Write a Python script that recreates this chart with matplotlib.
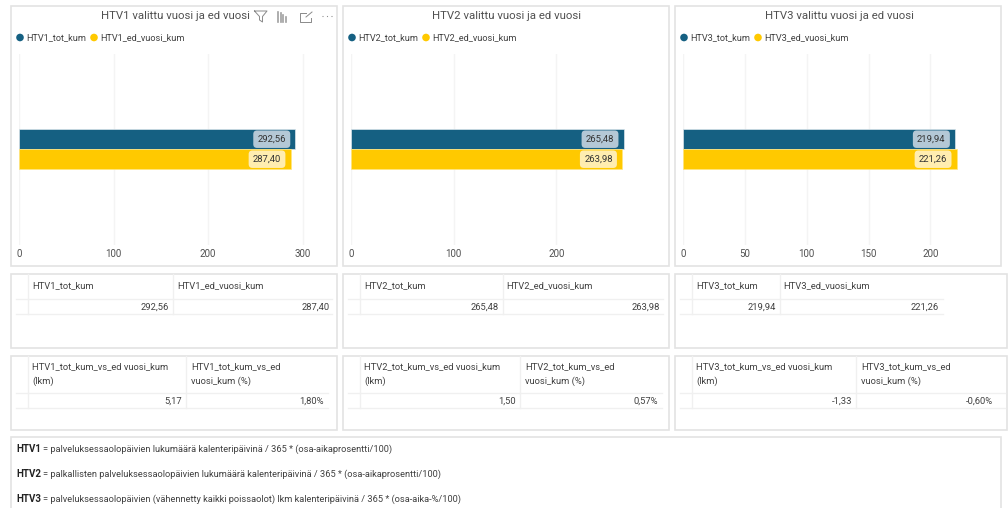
#!/usr/bin/env python3
import matplotlib
matplotlib.use("Agg")
import matplotlib.pyplot as plt
from matplotlib.patches import Rectangle, Circle

matplotlib.rcParams['font.family'] = ['Roboto', 'DejaVu Sans']

# --- Data ---
NAMES = ["HTV1", "HTV2", "HTV3"]
TOT_KUM = [292.56, 265.48, 219.94]
ED_VUOSI_KUM = [287.40, 263.98, 221.26]
TOT_LABELS = ["292,56", "265,48", "219,94"]
ED_LABELS = ["287,40", "263,98", "221,26"]
DIFF_LKM = ["5,17", "1,50", "-1,33"]
DIFF_PCT = ["1,80%", "0,57%", "-0,60%"]
X_TICKS = [[0, 100, 200, 300], [0, 100, 200], [0, 50, 100, 150, 200]]
NOTE_DEFS = [
    "= palveluksessaolopäivien lukumäärä kalenteripäivinä / 365 * (osa-aikaprosentti/100)",
    "= palkallisten palveluksessaolopäivien lukumäärä kalenteripäivinä / 365 * (osa-aikaprosentti/100)",
    "= palveluksessaolopäivien (vähennetty kaikki poissaolot) lkm kalenteripäivinä / 365 * (osa-aika-%/100)",
]

# --- Layout, in pixels of the 1008x508 picture ---
W, H = 1008, 508
CARD_X = [11, 343, 675]
CARD_W = 326
TABLE_W = [326, 326, 332]
ZERO_X = [19, 351, 683]
PX_PER_UNIT = [0.945, 1.027, 1.237]
PLOT_TOP, PLOT_BOTTOM = 54, 245
PLOT_RIGHT_PAD = 10
TITLE_X = [175, 506.5, 839]
# first table
SPLIT_1 = [173, 502.5, 779.5]
VALUE_1_RIGHT = [330, 660, 939]
LINE_1_RIGHT = [332, 663, 943]
# second table
SPLIT_2 = [186, 520, 856]
VALUE_2_RIGHT = [324, 657.5, 993]
LINE_2_RIGHT = [328, 662, 1005]

NAVY = '#156082'
YELLOW = '#ffc900'
BORDER = '#e3e3e3'
GRID = '#f4f4f4'
TXT = '#404040'
FS_TABLE = 6.75

fig = plt.figure(figsize=(W / 100, H / 100), dpi=100, facecolor='white')

# overlay in pixel coordinates for the cards and tables
bg = fig.add_axes([0, 0, 1, 1])
bg.set_xlim(0, W)
bg.set_ylim(H, 0)
bg.axis('off')


def card(x, y, w, h):
    bg.add_patch(Rectangle((x, y), w, h, fc='white', ec=BORDER, lw=1.2))


def hline(x0, x1, y):
    bg.plot([x0, x1], [y, y], color='#f0f0f0', lw=1)


def vline(x, y0, y1):
    bg.plot([x, x], [y0, y1], color='#f0f0f0', lw=1)


for i, name in enumerate(NAMES):
    cx = CARD_X[i]

    # chart card
    card(cx, 6, CARD_W, 260)
    bg.text(TITLE_X[i], 16, f"{name} valittu vuosi ja ed vuosi",
            ha='center', va='center', fontsize=8.2, color='#505050')
    bg.add_patch(Circle((cx + 9, 37.5), 3.8, fc=NAVY, ec='none'))
    bg.text(cx + 15, 37.5, f"{name}_tot_kum", ha='left', va='center', fontsize=6.6, color=TXT)
    bg.add_patch(Circle((cx + 83, 37.5), 3.8, fc=YELLOW, ec='none'))
    bg.text(cx + 89, 37.5, f"{name}_ed_vuosi_kum", ha='left', va='center', fontsize=6.6, color=TXT)

    # bar chart
    x0 = ZERO_X[i]
    x1 = cx + CARD_W - PLOT_RIGHT_PAD
    ax = fig.add_axes([x0 / W, 1 - PLOT_BOTTOM / H, (x1 - x0) / W, (PLOT_BOTTOM - PLOT_TOP) / H])
    ax.patch.set_alpha(0)
    ax.set_xlim(0, (x1 - x0) / PX_PER_UNIT[i])
    ax.set_ylim(-4.825, 4.725)
    ax.set_axisbelow(True)
    ax.grid(True, axis='x', color=GRID, lw=1)
    ax.barh([0.5], [TOT_KUM[i]], height=1, color=NAVY, edgecolor='#dce6ec', lw=0.5)
    ax.barh([-0.5], [ED_VUOSI_KUM[i]], height=1, color=YELLOW, edgecolor='#ffe680', lw=0.5)
    for y, val, lab, col in [(0.5, TOT_KUM[i], TOT_LABELS[i], '#b4c8d6'),
                             (-0.5, ED_VUOSI_KUM[i], ED_LABELS[i], '#ffedb0')]:
        ax.annotate(lab, (val, y), xytext=(-6.8, -0.5), textcoords='offset points',
                    ha='right', va='center', fontsize=6.8, color='#333333',
                    bbox=dict(boxstyle='round,pad=0.45,rounding_size=0.4', fc=col, ec='none'))
    ax.set_yticks([])
    ax.set_xticks(X_TICKS[i])
    ax.tick_params(axis='x', length=0, labelsize=7, labelcolor='#505050', pad=3)
    for s in ax.spines.values():
        s.set_visible(False)

    # first table
    card(cx, 274, TABLE_W[i], 74)
    hline(cx + 5, LINE_1_RIGHT[i], 299)
    hline(cx + 5, LINE_1_RIGHT[i], 314)
    vline(cx + 17, 274, 314)
    vline(SPLIT_1[i], 274, 314)
    bg.text(cx + 21, 286, f"{name}_tot_kum", ha='left', va='center', fontsize=FS_TABLE, color=TXT)
    bg.text(SPLIT_1[i] + 4, 286, f"{name}_ed_vuosi_kum", ha='left', va='center', fontsize=FS_TABLE, color=TXT)
    bg.text(SPLIT_1[i] - 4, 307, TOT_LABELS[i], ha='right', va='center', fontsize=FS_TABLE, color=TXT)
    bg.text(VALUE_1_RIGHT[i], 307, ED_LABELS[i], ha='right', va='center', fontsize=FS_TABLE, color=TXT)

    # second table
    card(cx, 356, TABLE_W[i], 74)
    hline(cx + 5, LINE_2_RIGHT[i], 393)
    hline(cx + 5, LINE_2_RIGHT[i], 408)
    vline(cx + 17, 356, 408)
    vline(SPLIT_2[i], 356, 408)
    bg.text(cx + 21, 374, f"{name}_tot_kum_vs_ed vuosi_kum\n(lkm)", ha='left', va='center',
            fontsize=FS_TABLE, color=TXT, linespacing=1.65)
    bg.text(SPLIT_2[i] + 5, 374, f"{name}_tot_kum_vs_ed\nvuosi_kum (%)", ha='left', va='center',
            fontsize=FS_TABLE, color=TXT, linespacing=1.65)
    bg.text(SPLIT_2[i] - 4, 401, DIFF_LKM[i], ha='right', va='center', fontsize=FS_TABLE, color=TXT)
    bg.text(VALUE_2_RIGHT[i], 401, DIFF_PCT[i], ha='right', va='center', fontsize=FS_TABLE, color=TXT)

# visual header icons of the first chart
ICON = '#8a8a8a'
bg.plot([254.5, 267, 262.5, 262.5, 259.5, 259.5, 254.5], [11, 11, 16.5, 22, 20, 16.5, 11], color=ICON, lw=0.7)
for dx, top in zip([278, 280.5, 283, 285.5], [12, 13, 15, 17]):
    bg.plot([dx, dx], [top, 22], color='#a0a0a0', lw=1.2)
bg.plot([306, 300, 300, 311, 311], [13, 13, 22, 22, 18], color=ICON, lw=0.7)
bg.plot([306, 312], [17, 12], color=ICON, lw=0.7)
for dx in [323, 327.5, 332]:
    bg.add_patch(Circle((dx, 16.5), 0.6, fc=ICON, ec='none'))

# notes card, cut off by the lower edge of the picture
card(11, 437, 990, 80)
for y, name, text in zip([449, 474, 499], NAMES, NOTE_DEFS):
    bg.text(16, y, name, ha='left', va='center', fontsize=7, color='#222222', fontweight='bold')
    bg.text(43, y, text, ha='left', va='center', fontsize=6.65, color=TXT)

fig.savefig("out.png", dpi=100)
plt.close(fig)
